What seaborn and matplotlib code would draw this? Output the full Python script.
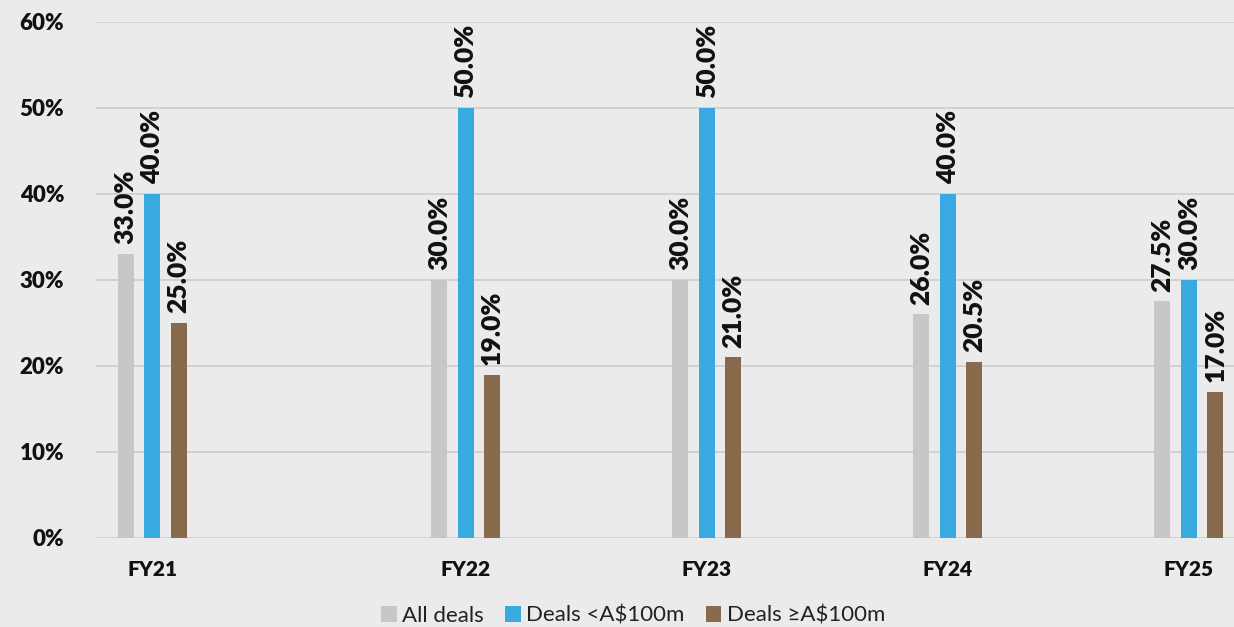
import pandas as pd
import matplotlib
matplotlib.use("Agg")
import matplotlib.pyplot as plt
from matplotlib.patches import Patch
from matplotlib.ticker import FuncFormatter
import seaborn as sns

# ---- data -------------------------------------------------------------
fiscal_years = ["FY21", "FY22", "FY23", "FY24", "FY25"]
series_names = ["All deals", "Deals <A$100m", "Deals ≥A$100m"]
all_deals = [33.0, 30.0, 30.0, 26.0, 27.5]
deals_under_100m = [40.0, 50.0, 50.0, 40.0, 30.0]
deals_over_100m = [25.0, 19.0, 21.0, 20.5, 17.0]
y_ticks = [0, 10, 20, 30, 40, 50, 60]

# ---- styling ----------------------------------------------------------
bg = "#ebebeb"
palette = ["#c8c6c7", "#38aae1", "#866a4b"]
grid_color = "#cccccc"
text_color = "#111111"

sns.set_theme(style="white")
plt.rcParams["font.family"] = ["Lato", "DejaVu Sans"]

# group centres along the x axis (first gap is wider)
group_x = [0.0, 1.3, 2.3, 3.3, 4.3]
year_pos = dict(zip(fiscal_years, group_x))

records = []
for name, values in zip(series_names, [all_deals, deals_under_100m, deals_over_100m]):
    for year, v in zip(fiscal_years, values):
        records.append({"x": year_pos[year], "series": name, "value": v})
df = pd.DataFrame(records)

fig = plt.figure(figsize=(12.34, 6.27), dpi=100, facecolor=bg)
ax = fig.add_axes([0.078, 0.142, 0.922, 0.823], facecolor=bg)

sns.barplot(
    data=df, x="x", y="value", hue="series", hue_order=series_names,
    palette=palette, native_scale=True, width=0.33, gap=0.4,
    saturation=1, legend=False, ax=ax, errorbar=None, linewidth=0,
)

for container in ax.containers:
    ax.bar_label(container, fmt="{:.1f}%", rotation=90, padding=7,
                 fontsize=19, fontweight="heavy", color=text_color)

ax.set_ylim(0, 60)
ax.set_yticks(y_ticks)
ax.yaxis.set_major_formatter(FuncFormatter(lambda v, _: f"{v:.0f}%"))
ax.set_xlim(-0.232, 4.487)
ax.set_xticks(group_x)
ax.set_xticklabels(fiscal_years)
ax.set_xlabel("")
ax.set_ylabel("")

ax.grid(axis="y", color=grid_color, linewidth=1.2)
ax.set_axisbelow(True)
for s in ax.spines.values():
    s.set_visible(False)

ax.tick_params(axis="y", length=0, pad=23, labelsize=16, labelcolor=text_color)
ax.tick_params(axis="x", length=0, pad=16, labelsize=15, labelcolor=text_color)
for lab in ax.get_xticklabels() + ax.get_yticklabels():
    lab.set_fontweight("heavy")

handles = [Patch(facecolor=c, edgecolor="none") for c in palette]
fig.legend(handles, series_names, loc="center", bbox_to_anchor=(0.513, 0.018),
           ncol=3, frameon=False, fontsize=16, handlelength=0.7,
           handleheight=0.7, handletextpad=0.25, columnspacing=0.95,
           labelcolor="#222222")

fig.savefig("out.png", dpi=100, facecolor=bg)
